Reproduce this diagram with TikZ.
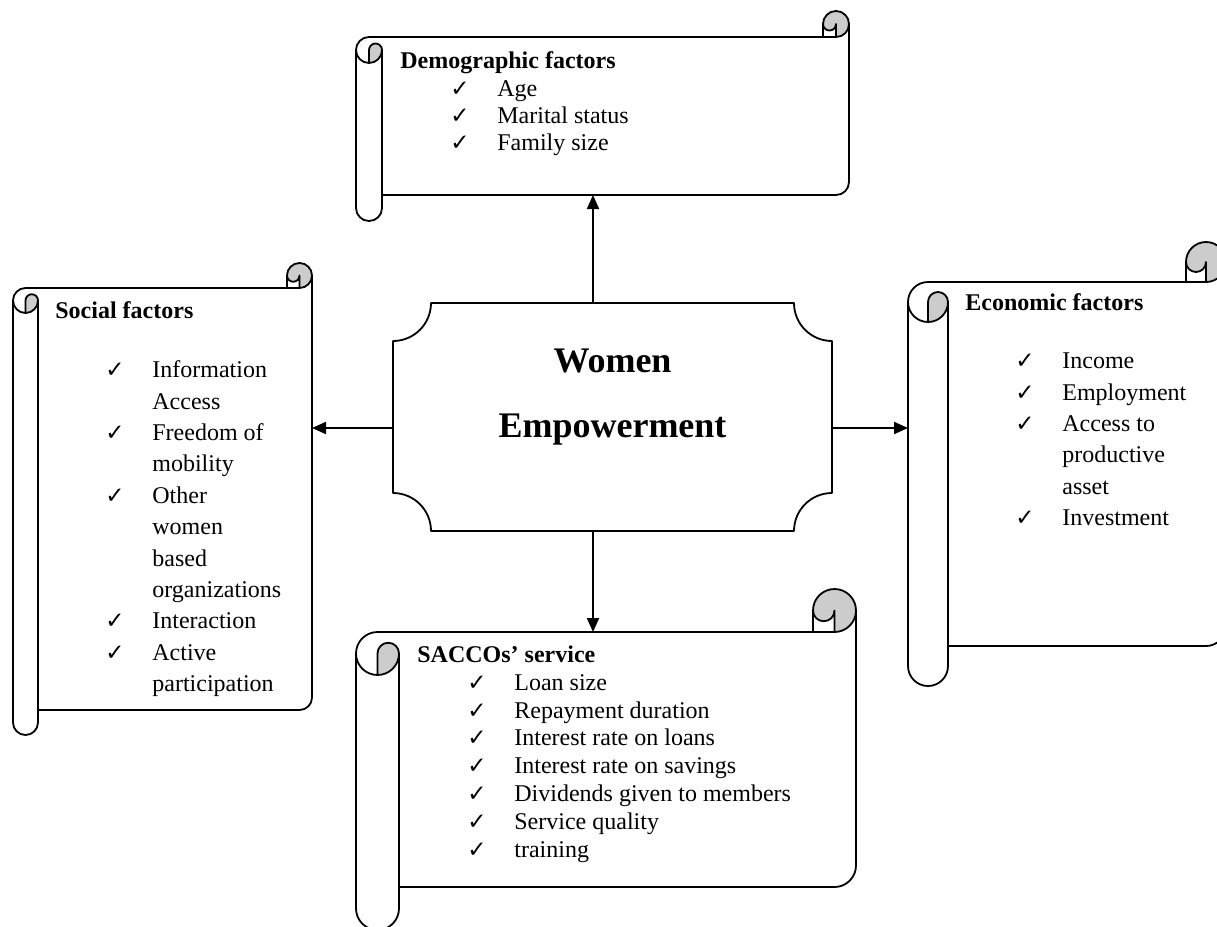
\documentclass[tikz,border=0pt]{standalone}
\usepackage{fontspec}
\setmainfont{Liberation Serif}
\newfontfamily\checkfont{DejaVu Sans}
\usetikzlibrary{arrows.meta}

% list helpers
\newcommand\tickitem{\hspace*{25pt}\makebox[23.5pt][l]{\checkfont\fontsize{11.5}{11.5}\selectfont ✓}}
\newcommand\contitem{\hspace*{48.5pt}}

% scroll outline: width, height, roll size
\tikzset{
    pics/scroll/.style n args={3}{code={
        \pgfmathsetmacro\scrW{#1}
        \pgfmathsetmacro\scrH{#2}
        \pgfmathsetmacro\scrC{#3}
        \pgfmathsetmacro\scrCh{#3/2}
        \pgfmathsetmacro\scrCq{#3/4}
        \pgfmathsetmacro\scrYa{1.5*#3}
        \pgfmathsetmacro\scrYb{2*#3}
        \pgfmathsetmacro\scrYc{#2-#3}
        \pgfmathsetmacro\scrYd{#2-#3/2}
        \pgfmathsetmacro\scrYe{#2-1.5*#3}
        \pgfmathsetmacro\scrXa{#1-#3}
        \pgfmathsetmacro\scrXb{#1-#3/2}
        % shaded curls
        \fill[curl] (\scrCh,\scrYb) arc[start angle=90,delta angle=-90,radius=\scrCh]
            arc[start angle=0,delta angle=-180,radius=\scrCq] -- cycle;
        \fill[curl] (\scrXb,\scrC) arc[start angle=90,delta angle=-270,radius=\scrCh]
            arc[start angle=180,delta angle=-180,radius=\scrCq] -- cycle;
        % outline
        \draw[shapeline] (0,\scrYa) arc[start angle=180,delta angle=90,radius=\scrCh]
            -- (\scrXa,\scrC) -- (\scrXa,\scrCh)
            arc[start angle=180,delta angle=180,radius=\scrCh]
            -- (\scrW,\scrYe) arc[start angle=0,delta angle=90,radius=\scrCh]
            -- (\scrC,\scrYc) -- (\scrC,\scrYd)
            arc[start angle=0,delta angle=180,radius=\scrCh] -- cycle;
        \draw[shapeline] (\scrXa,\scrC) -- (\scrXb,\scrC)
            arc[start angle=90,delta angle=-90,radius=\scrCh];
        \draw[shapeline] (\scrXb,\scrC) -- (\scrXb,\scrCh)
            arc[start angle=0,delta angle=180,radius=\scrCq];
        \draw[shapeline] (\scrCh,\scrYb) -- (\scrCh,\scrYa)
            arc[start angle=180,delta angle=180,radius=\scrCq]
            arc[start angle=0,delta angle=180,radius=\scrCh];
        \draw[shapeline] (\scrC,\scrYa) -- (\scrC,\scrYc);
    }}
}

\begin{document}
\begin{tikzpicture}[
    x=0.5pt,
    y=-0.5pt,
    shapeline/.style={
        line width=0.9pt,
        line join=round
    },
    curl/.style={
        fill=black!20
    },
    plaque/.style={
        rectangle,
        minimum width=219.5pt,
        minimum height=114pt,
        inner sep=0pt,
        outer sep=0pt
    },
    titletext/.style={
        align=center,
        inner sep=0pt,
        font=\bfseries\fontsize{18}{18}\selectfont
    },
    listtext/.style={
        anchor=north west,
        inner sep=0pt,
        align=left,
        font=\fontsize{12}{13.7}\selectfont
    },
    widelist/.style={
        listtext,
        font=\fontsize{12}{15.7}\selectfont
    },
    arrow/.style={
        -{Triangle[length=7pt,width=6pt]},
        line width=1pt
    }
]
\useasboundingbox (0,0) rectangle (1217,927);

% Scrolls
\pic (demoscroll) at (356,11) {scroll={493}{210}{26}};
\pic (socialscroll) at (13,263) {scroll={299}{472}{25}};
\pic (econscroll) at (908,242) {scroll={318}{444}{40}};
\pic (saccoscroll) at (356,589) {scroll={500}{341}{43}};

% Centre
\node[plaque] (plaque) at (612.5,417) {};
\draw[shapeline] ([xshift=19pt]plaque.north west) -- ([xshift=-19pt]plaque.north east)
    arc[start angle=180,end angle=90,radius=38]
    -- ([yshift=19pt]plaque.south east) arc[start angle=270,end angle=180,radius=38]
    -- ([xshift=19pt]plaque.south west) arc[start angle=0,end angle=-90,radius=38]
    -- ([yshift=-19pt]plaque.north west) arc[start angle=90,end angle=0,radius=38]
    -- cycle;
\node[titletext] (title) at (612.5,397) {Women\\[14.5pt]Empowerment};

% Texts
\node[listtext] (demotext) at (400,51.4)
{\textbf{Demographic factors}\\
\tickitem Age\\
\tickitem Marital status\\
\tickitem Family size};

\node[widelist] (socialtext) at (55,301.4)
{\textbf{Social factors}\\[13.8pt]
\tickitem Information\\
\contitem Access\\
\tickitem Freedom of\\
\contitem mobility\\
\tickitem Other\\
\contitem women\\
\contitem based\\
\contitem organizations\\
\tickitem Interaction\\
\tickitem Active\\
\contitem participation};

\node[widelist] (econtext) at (965,293.4)
{\textbf{Economic factors}\\[13.3pt]
\tickitem Income\\
\tickitem Employment\\
\tickitem Access to\\
\contitem productive\\
\contitem asset\\
\tickitem Investment};

\node[listtext, font=\fontsize{12}{13.9}\selectfont] (saccotext) at (417,645.4)
{\textbf{SACCOs’ service}\\
\tickitem Loan size\\
\tickitem Repayment duration\\
\tickitem Interest rate on loans\\
\tickitem Interest rate on savings\\
\tickitem Dividends given to members\\
\tickitem Service quality\\
\tickitem training};

% Arrow ends
\coordinate (demoend) at (593,195);
\coordinate (saccoend) at (593,632);
\coordinate (socialend) at (312,428);
\coordinate (econend) at (908,428);

% Connections
\draw[arrow] (plaque.north -| demoend) -- (demoend);
\draw[arrow] (plaque.south -| saccoend) -- (saccoend);
\draw[arrow] (plaque.west |- socialend) -- (socialend);
\draw[arrow] (plaque.east |- econend) -- (econend);

\end{tikzpicture}
\end{document}
